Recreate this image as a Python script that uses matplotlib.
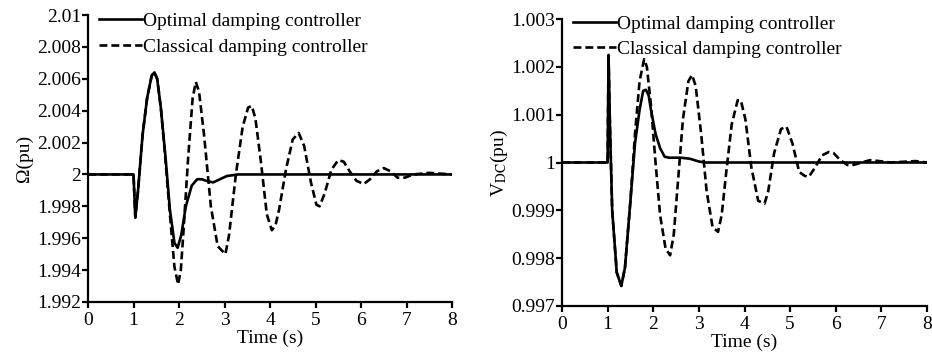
import matplotlib
matplotlib.use('Agg')
import matplotlib.pyplot as plt

plt.rcParams['font.family'] = ['Liberation Serif', 'DejaVu Serif']
plt.rcParams['mathtext.fontset'] = 'stix'

# ---- left panel: rotor speed (Omega) ----
t_w_opt = [0, 1.0, 1.04, 1.1, 1.2, 1.3, 1.4, 1.46, 1.52, 1.6, 1.7, 1.8, 1.9,
           1.97, 2.05, 2.15, 2.28, 2.4, 2.5, 2.6, 2.75, 2.9, 3.05, 3.3, 8.0]
w_opt = [2.0, 2.0, 1.9973, 1.9990, 2.0025, 2.0048, 2.0062, 2.0064, 2.0060,
         2.0042, 2.0012, 1.9978, 1.9957, 1.9954, 1.9962, 1.9980, 1.9993,
         1.9997, 1.9997, 1.9996, 1.9995, 1.9997, 1.9999, 2.0, 2.0]

t_w_cls = [0, 1.0, 1.04, 1.1, 1.2, 1.3, 1.4, 1.46, 1.52, 1.6, 1.7, 1.8, 1.9,
           1.98, 2.04, 2.1, 2.2, 2.3, 2.37, 2.44, 2.55, 2.7, 2.85, 3.02, 3.1,
           3.25, 3.4, 3.52, 3.6, 3.68, 3.8, 3.93, 4.04, 4.12, 4.2, 4.35, 4.5,
           4.63, 4.75, 4.9, 5.02, 5.09, 5.2, 5.35, 5.5, 5.62, 5.75, 5.9, 6.06,
           6.2, 6.35, 6.5, 6.65, 6.8, 6.97, 7.15, 7.5, 8.0]
w_cls = [2.0, 2.0, 1.9973, 1.9990, 2.0025, 2.0048, 2.0062, 2.0064, 2.0060,
         2.0042, 2.0010, 1.9975, 1.9942, 1.9931, 1.9940, 1.9965, 2.0010,
         2.0048, 2.0058, 2.0052, 2.0025, 1.9980, 1.9955, 1.9950, 1.9962,
         2.0000, 2.0030, 2.0042, 2.0043, 2.0035, 2.0008, 1.9975, 1.9965,
         1.9968, 1.9978, 2.0003, 2.0022, 2.0026, 2.0018, 1.9995, 1.9981,
         1.9980, 1.9988, 2.0003, 2.0009, 2.0008, 2.0002, 1.9996, 1.9994,
         1.9997, 2.0002, 2.0004, 2.0002, 1.9998, 1.9998, 2.0000, 2.0001, 2.0]

# ---- right panel: DC voltage ----
t_v_opt = [0, 1.0, 1.02, 1.05, 1.1, 1.2, 1.3, 1.38, 1.5, 1.6, 1.7, 1.78,
           1.84, 1.9, 1.95, 2.05, 2.15, 2.25, 2.35, 2.6, 2.8, 3.0, 3.15, 8.0]
v_opt = [1.0, 1.0, 1.00225, 1.0008, 0.9990, 0.9977, 0.99742, 0.9978, 0.9992,
         1.0004, 1.0011, 1.0015, 1.00152, 1.0014, 1.0011, 1.0006, 1.0003,
         1.00012, 1.0001, 1.0001, 1.00008, 1.00002, 1.0, 1.0]

t_v_cls = [0, 1.0, 1.02, 1.05, 1.1, 1.2, 1.3, 1.38, 1.5, 1.6, 1.7, 1.8, 1.86,
           1.95, 2.05, 2.15, 2.27, 2.37, 2.45, 2.55, 2.65, 2.77, 2.85, 2.93,
           3.05, 3.17, 3.3, 3.42, 3.5, 3.6, 3.72, 3.85, 3.92, 4.02, 4.15,
           4.3, 4.44, 4.52, 4.65, 4.8, 4.92, 5.05, 5.2, 5.32, 5.41, 5.55,
           5.7, 5.85, 5.95, 6.1, 6.25, 6.35, 6.5, 6.75, 6.95, 7.2, 7.75, 8.0]
v_cls = [1.0, 1.0, 1.00225, 1.0008, 0.9990, 0.9977, 0.99742, 0.9978, 0.9992,
         1.0006, 1.0017, 1.00216, 1.0020, 1.0012, 1.0, 0.9989, 0.9982,
         0.99806, 0.9985, 0.9997, 1.0009, 1.0017, 1.00183, 1.0016, 1.0006,
         0.9994, 0.99865, 0.99855, 0.9989, 0.9998, 1.0008, 1.0013, 1.0013,
         1.0009, 0.9999, 0.9992, 0.99914, 0.9994, 1.0002, 1.0007, 1.00075,
         1.0004, 0.9998, 0.99972, 0.99970, 0.9999, 1.00015, 1.00022, 1.0002,
         1.00005, 0.99995, 0.99994, 0.99998, 1.00005, 1.00003, 1.0, 1.00003,
         1.0]

labels = ['Optimal damping controller', 'Classical damping controller']
fs = 14
lw = 1.9

fig = plt.figure(figsize=(9.32, 3.53), dpi=100)
W, H = 932.0, 353.0
ax1 = fig.add_axes([88 / W, 1 - 302 / H, (452 - 88) / W, (302 - 15) / H])
ax2 = fig.add_axes([562 / W, 1 - 306 / H, (927 - 562) / W, (306 - 19) / H])


def style(ax, ylim, yticks, yfmt):
    for s in ['top', 'right']:
        ax.spines[s].set_visible(False)
    for s in ['left', 'bottom']:
        ax.spines[s].set_linewidth(1.6)
    ax.set_xlim(0, 8)
    ax.set_ylim(*ylim)
    ax.set_xticks(range(9))
    ax.set_yticks(yticks)
    ax.set_yticklabels([yfmt(v) for v in yticks])
    ax.tick_params(axis='both', direction='out', length=4, width=1.6,
                   labelsize=fs)
    ax.tick_params(axis='y', pad=1)
    ax.tick_params(axis='x', pad=3)
    ax.set_xlabel('Time (s)', fontsize=fs, labelpad=1)


ax1.plot(t_w_opt, w_opt, color='black', lw=lw, label=labels[0])
ax1.plot(t_w_cls, w_cls, color='black', lw=lw, dashes=(3, 1.5),
         label=labels[1])
w_ticks = [1.992, 1.994, 1.996, 1.998, 2.0, 2.002, 2.004, 2.006, 2.008, 2.01]
style(ax1, (1.992, 2.01), w_ticks, lambda v: ('%g' % round(v, 3)))
ax1.set_ylabel('Ω(pu)', fontsize=fs, labelpad=3)

ax2.plot(t_v_opt, v_opt, color='black', lw=lw, label=labels[0])
ax2.plot(t_v_cls, v_cls, color='black', lw=lw, dashes=(3, 1.5),
         label=labels[1])
v_ticks = [0.997, 0.998, 0.999, 1.0, 1.001, 1.002, 1.003]
style(ax2, (0.997, 1.003), v_ticks, lambda v: ('%g' % round(v, 3)))
ax2.set_ylabel(r'V$_{\rm DC}$(pu)', fontsize=fs, labelpad=1)

ax1.legend(loc='upper left', frameon=False, fontsize=fs,
           handlelength=2.2, handletextpad=0.05, labelspacing=0.4,
           borderaxespad=0.0, borderpad=0.1, bbox_to_anchor=(0.025, 1.015))
ax2.legend(loc='upper left', frameon=False, fontsize=fs,
           handlelength=2.2, handletextpad=0.05, labelspacing=0.4,
           borderaxespad=0.0, borderpad=0.1, bbox_to_anchor=(0.025, 1.02))

fig.savefig('out.png', dpi=100)
